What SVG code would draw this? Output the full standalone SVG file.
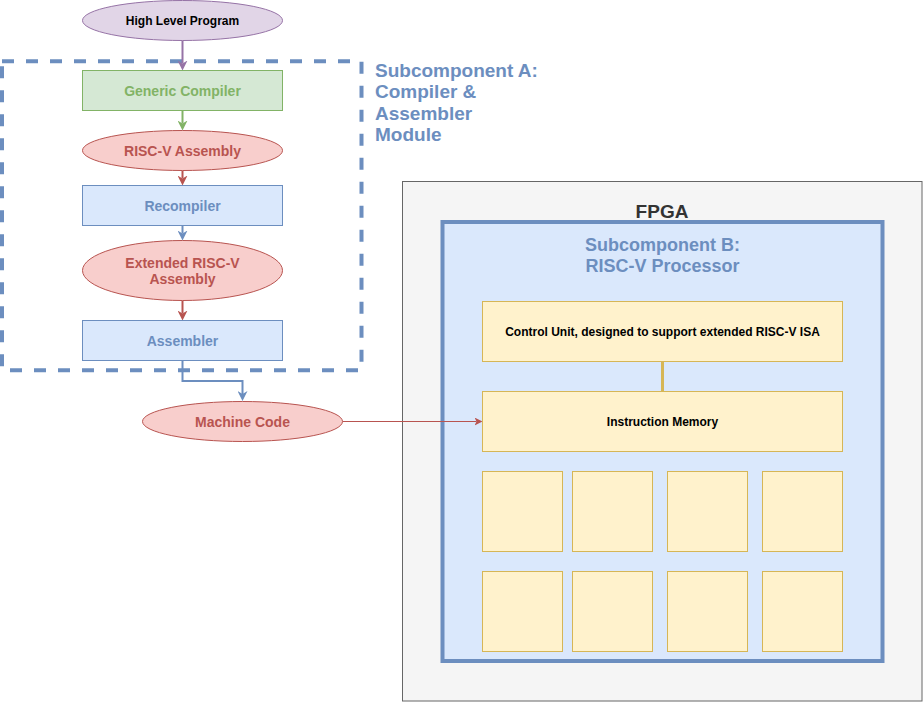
<svg xmlns="http://www.w3.org/2000/svg" width="923" height="702" viewBox="0 0 923 702">
<style>
text{font-family:"Liberation Sans",Arial,Helvetica,sans-serif;font-weight:bold;text-anchor:middle}
.lbl{font-size:14px}
.small{font-size:12px;fill:#000}
.yel{fill:#fff2cc;stroke:#d6b656;stroke-width:1}
.conn{fill:none;stroke-width:2}
</style>
<defs>
<marker id="aPurple" markerUnits="userSpaceOnUse" markerWidth="10" markerHeight="10" viewBox="0 0 10 10" refX="3" refY="5" orient="auto"><path d="M0,0 L10,5 L0,10 L3,5 Z" fill="#9673a6"/></marker>
<marker id="aGreen" markerUnits="userSpaceOnUse" markerWidth="10" markerHeight="10" viewBox="0 0 10 10" refX="3" refY="5" orient="auto"><path d="M0,0 L10,5 L0,10 L3,5 Z" fill="#82b366"/></marker>
<marker id="aRed" markerUnits="userSpaceOnUse" markerWidth="10" markerHeight="10" viewBox="0 0 10 10" refX="3" refY="5" orient="auto"><path d="M0,0 L10,5 L0,10 L3,5 Z" fill="#b85450"/></marker>
<marker id="aBlue" markerUnits="userSpaceOnUse" markerWidth="10" markerHeight="10" viewBox="0 0 10 10" refX="3" refY="5" orient="auto"><path d="M0,0 L10,5 L0,10 L3,5 Z" fill="#6c8ebf"/></marker>
<marker id="aRedThin" markerUnits="userSpaceOnUse" markerWidth="8" markerHeight="8" viewBox="0 0 8 8" refX="2" refY="4" orient="auto"><path d="M0,0 L8,4 L0,8 L2,4 Z" fill="#b85450"/></marker>
</defs>

<g id="fpga">
<rect x="402.5" y="181.5" width="519.5" height="519.5" fill="#f5f5f5" stroke="#666666" stroke-width="1"/>
<text x="662" y="218" style="font-size:19px" fill="#333333">FPGA</text>
</g>

<g id="subcomponent-b">
<rect x="442.5" y="222" width="440" height="439" fill="#dae8fc" stroke="#6c8ebf" stroke-width="4"/>
<text x="662.5" y="251" style="font-size:18px" fill="#6c8ebf">Subcomponent B:</text>
<text x="662.5" y="272" style="font-size:18px" fill="#6c8ebf">RISC-V Processor</text>
</g>

<g id="subcomponent-a">
<rect x="2" y="61.3" width="359.5" height="309" fill="none" stroke="#6c8ebf" stroke-width="4" stroke-dasharray="12 12"/>
<text x="375" y="77" style="font-size:19px;text-anchor:start" fill="#6c8ebf">Subcomponent A:</text>
<text x="375" y="98" style="font-size:19px;text-anchor:start" fill="#6c8ebf">Compiler &amp;</text>
<text x="375" y="120" style="font-size:19px;text-anchor:start" fill="#6c8ebf">Assembler</text>
<text x="375" y="141" style="font-size:19px;text-anchor:start" fill="#6c8ebf">Module</text>
</g>

<g id="connectors">
<path class="conn" d="M182.5,40.5 V63.5" stroke="#9673a6" marker-end="url(#aPurple)"/>
<path class="conn" d="M182.5,110.5 V123.5" stroke="#82b366" marker-end="url(#aGreen)"/>
<path class="conn" d="M182.5,170.5 V178.5" stroke="#b85450" marker-end="url(#aRed)"/>
<path class="conn" d="M182.5,225.5 V233.5" stroke="#6c8ebf" marker-end="url(#aBlue)"/>
<path class="conn" d="M182.5,300.5 V313.5" stroke="#b85450" marker-end="url(#aRed)"/>
<path class="conn" d="M182.5,360.5 V381 H242.5 V394" stroke="#6c8ebf" marker-end="url(#aBlue)"/>
<path d="M342.5,421.5 H476.5" fill="none" stroke="#b85450" stroke-width="1" marker-end="url(#aRedThin)"/>
<path d="M662.5,361.5 V391.5" fill="none" stroke="#d6b656" stroke-width="3"/>
</g>

<g id="high-level-program">
<ellipse cx="182.5" cy="20.5" rx="100" ry="20" fill="#e1d5e7" stroke="#9673a6" stroke-width="1"/>
<text x="182.5" y="25" class="small">High Level Program</text>
</g>

<g id="generic-compiler">
<rect x="82.5" y="70.5" width="200" height="40" fill="#d5e8d4" stroke="#82b366" stroke-width="1"/>
<text x="182.5" y="95.5" class="lbl" fill="#82b366">Generic Compiler</text>
</g>

<g id="riscv-assembly">
<ellipse cx="182.5" cy="150.5" rx="100" ry="20" fill="#f8cecc" stroke="#b85450" stroke-width="1"/>
<text x="182.5" y="155.5" class="lbl" fill="#b85450">RISC-V Assembly</text>
</g>

<g id="recompiler">
<rect x="82.5" y="185.5" width="200" height="40" fill="#dae8fc" stroke="#6c8ebf" stroke-width="1"/>
<text x="182.5" y="210.5" class="lbl" fill="#6c8ebf">Recompiler</text>
</g>

<g id="extended-riscv-assembly">
<ellipse cx="182.5" cy="270.5" rx="100" ry="30" fill="#f8cecc" stroke="#b85450" stroke-width="1"/>
<text x="182.5" y="267.5" class="lbl" fill="#b85450">Extended RISC-V</text>
<text x="182.5" y="284" class="lbl" fill="#b85450">Assembly</text>
</g>

<g id="assembler">
<rect x="82.5" y="320.5" width="200" height="40" fill="#dae8fc" stroke="#6c8ebf" stroke-width="1"/>
<text x="182.5" y="345.5" class="lbl" fill="#6c8ebf">Assembler</text>
</g>

<g id="machine-code">
<ellipse cx="242.5" cy="421.5" rx="100" ry="20" fill="#f8cecc" stroke="#b85450" stroke-width="1"/>
<text x="242.5" y="426.5" class="lbl" fill="#b85450">Machine Code</text>
</g>

<g id="control-unit">
<rect class="yel" x="482.5" y="301.5" width="360" height="60"/>
<text x="662.5" y="335.5" class="small">Control Unit, designed to support extended RISC-V ISA</text>
</g>

<g id="instruction-memory">
<rect class="yel" x="482.5" y="391.5" width="360" height="60"/>
<text x="662.5" y="425.5" class="small">Instruction Memory</text>
</g>

<g id="block-1"><rect class="yel" x="482.5" y="471.5" width="80" height="80"/></g>
<g id="block-2"><rect class="yel" x="572.5" y="471.5" width="80" height="80"/></g>
<g id="block-3"><rect class="yel" x="667.5" y="471.5" width="80" height="80"/></g>
<g id="block-4"><rect class="yel" x="762.5" y="471.5" width="80" height="80"/></g>
<g id="block-5"><rect class="yel" x="482.5" y="571.5" width="80" height="80"/></g>
<g id="block-6"><rect class="yel" x="572.5" y="571.5" width="80" height="80"/></g>
<g id="block-7"><rect class="yel" x="667.5" y="571.5" width="80" height="80"/></g>
<g id="block-8"><rect class="yel" x="762.5" y="571.5" width="80" height="80"/></g>
</svg>
